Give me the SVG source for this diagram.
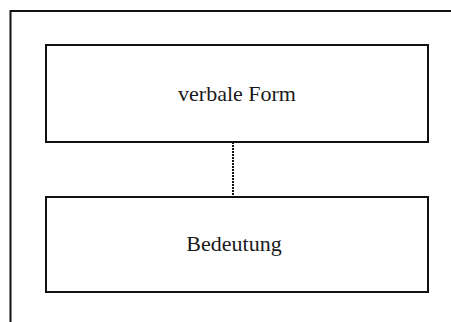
<svg xmlns="http://www.w3.org/2000/svg" width="451" height="322" viewBox="0 0 451 322">
<style>
.box{fill:#fff;stroke:#111;stroke-width:2}
.lbl{font-family:"Liberation Serif","Times New Roman",serif;font-size:22px;fill:#1a1a1a;text-anchor:middle}
</style>
<rect width="451" height="322" fill="#fff"/>
<g id="frame"><path d="M10.5,330 V11 H460" fill="none" stroke="#111" stroke-width="2"/></g>
<g id="connectors"><line x1="233" y1="142" x2="233" y2="197" stroke="#111" stroke-width="2" stroke-dasharray="2,1"/></g>
<g id="node-form"><rect class="box" x="46" y="45" width="382" height="97"/><text class="lbl" x="237" y="101">verbale Form</text></g>
<g id="node-bedeutung"><rect class="box" x="46" y="197" width="382" height="95"/><text class="lbl" x="234" y="251">Bedeutung</text></g>
</svg>
